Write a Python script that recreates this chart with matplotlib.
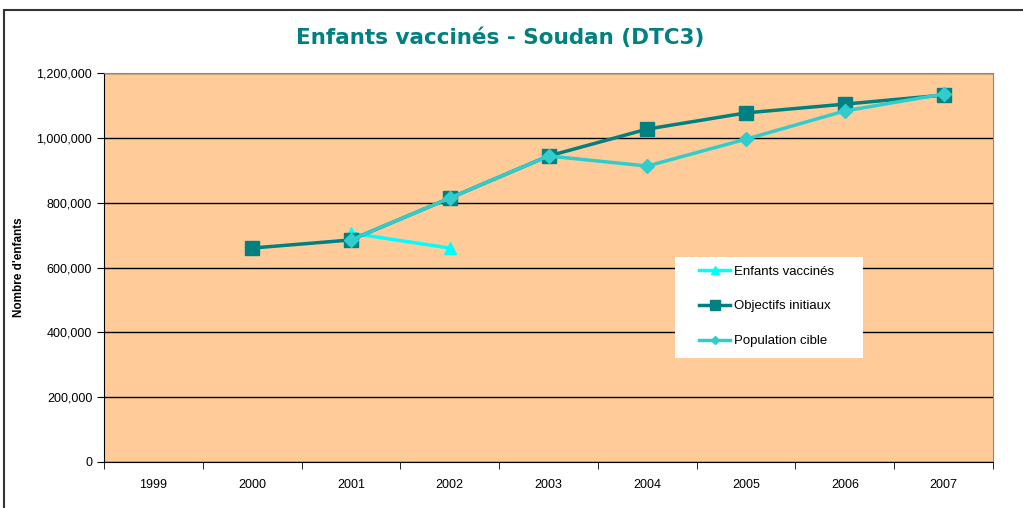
import matplotlib
matplotlib.use('Agg')
from matplotlib import pyplot as plt
from matplotlib.patches import Rectangle
from matplotlib.ticker import FuncFormatter, FixedLocator
import numpy as np

years = ['1999', '2000', '2001', '2002', '2003', '2004', '2005', '2006', '2007']
vaccines = [None, None, 706000, 660000, None, None, None, None, None]
objectifs = [None, 660000, 685000, 814000, 944000, 1027000, 1077000, 1104000, 1132000]
population = [None, None, 685000, 814000, 944000, 913000, 996000, 1083000, 1135000]

plt.rcParams['font.family'] = ['Liberation Sans', 'DejaVu Sans']


def to_arr(vals):
    return np.array([np.nan if v is None else v for v in vals], dtype=float)


fig = plt.figure(figsize=(10.23, 5.08), dpi=100)
fig.patches.append(Rectangle((4 / 1023, -0.1), 1.1, (1 - 10 / 508) + 0.1,
                             transform=fig.transFigure, fill=False,
                             edgecolor='#333333', linewidth=1.5))

ax = fig.add_axes([104 / 1023, 46 / 508, 889 / 1023, 389 / 508])
ax.set_facecolor('#FFCC99')

x = np.arange(len(years))
ax.plot(x, to_arr(vaccines), color='#00FFFF', lw=2.5, marker='^', ms=9,
        label='Enfants vaccinés', zorder=3)
ax.plot(x, to_arr(objectifs), color='#008080', lw=2.5, marker='s', ms=10,
        label='Objectifs initiaux', zorder=4)
ax.plot(x, to_arr(population), color='#33CCCC', lw=2.5, marker='D', ms=7,
        label='Population cible', zorder=5)

ax.set_xlim(-0.5, len(years) - 0.5)
ax.set_ylim(0, 1200000)
ax.set_yticks(np.arange(0, 1200001, 200000))
ax.yaxis.set_major_formatter(FuncFormatter(lambda v, p: f'{int(v):,}'))
ax.grid(axis='y', color='black', lw=1)
ax.set_axisbelow(True)

ax.set_xticks(x)
ax.set_xticklabels(years)
ax.tick_params(axis='x', which='major', length=0, pad=12, labelsize=9)
ax.xaxis.set_minor_locator(FixedLocator(np.arange(-0.5, len(years), 1)))
ax.tick_params(axis='x', which='minor', length=5, direction='out')
ax.tick_params(axis='y', length=5, direction='out', labelsize=9)

for s in ['top', 'right']:
    ax.spines[s].set_color('#888888')
ax.spines['left'].set_color('black')
ax.spines['bottom'].set_color('black')

ax.set_ylabel("Nombre d'enfants", fontsize=8.5, fontweight='bold', labelpad=8)

fig.text(0.489, 0.925, 'Enfants vaccinés - Soudan (DTC3)', ha='center', va='center',
         fontsize=15.5, fontweight='bold', color='#008080', family='DejaVu Sans')

# white legend box, wider than matplotlib's own frame
ax.add_patch(Rectangle((0.642, 0.267), 0.2115, 0.26, transform=ax.transAxes,
                       facecolor='white', edgecolor='none', zorder=6))
leg = ax.legend(loc='upper left', bbox_to_anchor=(0.669, 0.505), frameon=False,
                fontsize=9.5, labelspacing=1.7, borderpad=0,
                handlelength=2.4, handletextpad=0.3, borderaxespad=0,
                markerscale=0.65)
leg.set_zorder(7)

fig.savefig('out.png', dpi=100)
